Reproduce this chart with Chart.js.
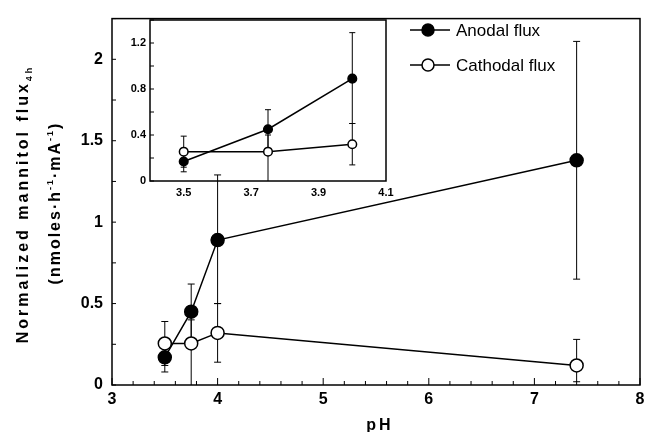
<!DOCTYPE html>
<html>
<head>
<meta charset="utf-8">
<script src="https://cdn.jsdelivr.net/npm/chart.js@4/dist/chart.umd.min.js"></script>
<style>
  body { margin: 0; background: #fff; }
  #wrap { position: relative; width: 652px; height: 432px; }
  #inset { position: absolute; left: 120px; top: 8px; }
</style>
</head>
<body>
<div id="wrap">
  <canvas id="main" width="652" height="432"></canvas>
  <canvas id="inset" width="280" height="195"></canvas>
</div>
<script>
// pH values and normalized mannitol flux (nmoles/h/mA)
const pH = [3.5, 3.75, 4.0, 7.4];
const anodal = [0.17, 0.45, 0.89, 1.38];
const anodalHi = [0.24, 0.62, 1.29, 2.11];
const anodalLo = [0.08, 0.28, 0.50, 0.65];
const cathodal = [0.255, 0.255, 0.32, 0.12];
const cathodalHi = [0.39, 0.40, 0.50, 0.28];
const cathodalLo = [0.12, 0.0, 0.14, 0.02];

// axes
const xRange = [3, 8];
const yRange = [0, 2.25];
const insetXRange = [3.4, 4.1];
const insetYRange = [0, 1.4];
const insetXTicks = [3.5, 3.7, 3.9, 4.1];
const insetCount = 3; // points shown in the inset (pH <= 4)

const seriesNames = ['Anodal flux', 'Cathodal flux'];
const FONT = 'Arial, "Liberation Sans", Helvetica, sans-serif';
Chart.defaults.font.family = FONT;
Chart.defaults.color = '#000';

function points(xs, ys, n) {
  return xs.slice(0, n).map((x, i) => ({ x: x, y: ys[i] }));
}

// plain number labels: 0, 0.5, 1, 1.5 ...
const plain = v => String(parseFloat(v.toFixed(2)));

// error bars drawn under the markers
const errorBars = {
  id: 'errorBars',
  beforeDatasetsDraw(chart, args, opts) {
    const { ctx, scales: { x, y } } = chart;
    ctx.save();
    ctx.strokeStyle = '#000';
    ctx.lineWidth = opts.width || 1;
    const cap = opts.cap || 3;
    chart.data.datasets.forEach(ds => {
      ds.data.forEach((p, j) => {
        const px = x.getPixelForValue(p.x);
        const yl = y.getPixelForValue(ds.errLo[j]);
        const yh = y.getPixelForValue(ds.errHi[j]);
        ctx.beginPath();
        ctx.moveTo(px, yl); ctx.lineTo(px, yh);
        ctx.moveTo(px - cap, yh); ctx.lineTo(px + cap, yh);
        if (ds.errLo[j] > 0.01) { ctx.moveTo(px - cap, yl); ctx.lineTo(px + cap, yl); }
        ctx.stroke();
      });
    });
    ctx.restore();
  }
};

// box around the plot with inward tick marks
const frame = {
  id: 'frame',
  afterDraw(chart, args, opts) {
    const { ctx, chartArea: a, scales: { x, y } } = chart;
    ctx.save();
    ctx.strokeStyle = '#000';
    ctx.lineWidth = opts.width || 1.5;
    ctx.strokeRect(a.left, a.top, a.right - a.left, a.bottom - a.top);
    ctx.lineWidth = 1;
    ctx.beginPath();
    if (opts.xMinor) {
      for (let v = x.min; v <= x.max + 1e-9; v += opts.xMinor) {
        const px = x.getPixelForValue(v);
        const major = Math.abs(v - Math.round(v)) < 1e-6;
        ctx.moveTo(px, a.bottom);
        ctx.lineTo(px, a.bottom - (major ? opts.majorLen : opts.minorLen));
      }
    }
    if (opts.yMinor) {
      for (let v = y.min; v <= y.max + 1e-9; v += opts.yMinor) {
        const py = y.getPixelForValue(v);
        ctx.moveTo(a.left, py);
        ctx.lineTo(a.left + opts.minorLen, py);
      }
    }
    ctx.stroke();
    ctx.restore();
  }
};

// text run with sub/superscripts, centred at (0,0) of the current transform
function drawRich(ctx, parts, spacing) {
  ctx.letterSpacing = spacing;
  let total = 0;
  parts.forEach(p => {
    ctx.font = 'bold ' + p.size + 'px ' + FONT;
    p.w = ctx.measureText(p.t).width;
    total += p.w;
  });
  let cx = -total / 2;
  parts.forEach(p => {
    ctx.font = 'bold ' + p.size + 'px ' + FONT;
    ctx.fillText(p.t, cx, p.dy || 0);
    cx += p.w;
  });
}

const titles = {
  id: 'titles',
  afterDraw(chart) {
    const ctx = chart.ctx;
    ctx.save();
    ctx.fillStyle = '#000';
    ctx.textBaseline = 'alphabetic';
    ctx.textAlign = 'left';

    ctx.save();
    ctx.translate(28, 204);
    ctx.rotate(-Math.PI / 2);
    drawRich(ctx, [
      { t: 'Normalized mannitol flux', size: 16 },
      { t: '4h', size: 9, dy: 4 }
    ], '3px');
    ctx.restore();

    ctx.save();
    ctx.translate(60, 203);
    ctx.rotate(-Math.PI / 2);
    drawRich(ctx, [
      { t: '(nmoles\u00b7h', size: 16 },
      { t: '-1', size: 9, dy: -7 },
      { t: '\u00b7mA', size: 16 },
      { t: '-1', size: 9, dy: -7 },
      { t: ')', size: 16 }
    ], '2px');
    ctx.restore();

    ctx.translate(380, 430);
    drawRich(ctx, [{ t: 'pH', size: 16 }], '3px');
    ctx.restore();

    // legend
    ctx.save();
    ctx.strokeStyle = '#000';
    ctx.lineWidth = 1.5;
    ctx.font = '17px ' + FONT;
    ctx.textBaseline = 'middle';
    const rows = [30, 65];
    const fills = ['#000', '#fff'];
    rows.forEach((ry, i) => {
      ctx.beginPath();
      ctx.moveTo(410, ry); ctx.lineTo(450, ry);
      ctx.stroke();
      ctx.beginPath();
      ctx.arc(428, ry, 6, 0, Math.PI * 2);
      ctx.fillStyle = fills[i];
      ctx.fill();
      ctx.stroke();
      ctx.fillStyle = '#000';
      ctx.fillText(seriesNames[i], 456, ry + 1);
    });
    ctx.restore();
  }
};

function makeDatasets(n, radius) {
  return [
    {
      label: seriesNames[0],
      data: points(pH, anodal, n),
      errLo: anodalLo, errHi: anodalHi,
      showLine: true, borderColor: '#000', borderWidth: 1.5,
      pointRadius: radius, pointBackgroundColor: '#000',
      pointBorderColor: '#000', pointBorderWidth: 1.5
    },
    {
      label: seriesNames[1],
      data: points(pH, cathodal, n),
      errLo: cathodalLo, errHi: cathodalHi,
      showLine: true, borderColor: '#000', borderWidth: 1.5,
      pointRadius: radius, pointBackgroundColor: '#fff',
      pointBorderColor: '#000', pointBorderWidth: 1.5
    }
  ];
}

new Chart(document.getElementById('main'), {
  type: 'scatter',
  data: { datasets: makeDatasets(pH.length, 6.5) },
  options: {
    responsive: false,
    animation: false,
    devicePixelRatio: 1,
    layout: { padding: { top: 12, right: 12, left: 0, bottom: 0 } },
    scales: {
      x: {
        type: 'linear', min: xRange[0], max: xRange[1],
        grid: { display: false, drawTicks: false },
        border: { display: false },
        ticks: { stepSize: 1, padding: 5, font: { size: 16, weight: 'bold' }, callback: plain },
        afterFit: s => { s.height = 47; }
      },
      y: {
        min: yRange[0], max: yRange[1],
        grid: { display: false, drawTicks: false },
        border: { display: false },
        ticks: { stepSize: 0.5, includeBounds: false, padding: 9, font: { size: 16, weight: 'bold' }, callback: plain },
        afterFit: s => { s.width = 112; }
      }
    },
    plugins: {
      legend: { display: false },
      tooltip: { enabled: false },
      errorBars: { width: 1, cap: 3.5 },
      frame: { width: 1.5, xMinor: 0.2, yMinor: 0.25, majorLen: 7, minorLen: 4 }
    }
  },
  plugins: [errorBars, frame, titles]
});

new Chart(document.getElementById('inset'), {
  type: 'scatter',
  data: { datasets: makeDatasets(insetCount, 4.3) },
  options: {
    responsive: false,
    animation: false,
    devicePixelRatio: 1,
    layout: { padding: { top: 12, right: 14, left: 0, bottom: 0 } },
    scales: {
      x: {
        type: 'linear', min: insetXRange[0], max: insetXRange[1],
        grid: { display: false, drawTicks: false },
        border: { display: false },
        afterBuildTicks: s => { s.ticks = insetXTicks.map(v => ({ value: v })); },
        ticks: { padding: 5, font: { size: 11, weight: 'bold' }, callback: v => v.toFixed(1) },
        afterFit: s => { s.height = 22; }
      },
      y: {
        min: insetYRange[0], max: insetYRange[1],
        grid: { display: false, drawTicks: false },
        border: { display: false },
        ticks: { stepSize: 0.4, includeBounds: false, padding: 4, font: { size: 11, weight: 'bold' }, callback: plain },
        afterFit: s => { s.width = 30; }
      }
    },
    plugins: {
      legend: { display: false },
      tooltip: { enabled: false },
      errorBars: { width: 1, cap: 3 },
      frame: { width: 1.5, yMinor: 0.2, minorLen: 4 }
    }
  },
  plugins: [errorBars, frame]
});
</script>
</body>
</html>
